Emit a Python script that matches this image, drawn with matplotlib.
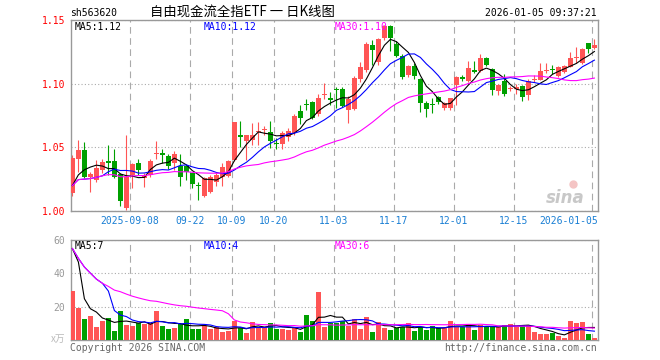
import matplotlib
matplotlib.use("Agg")
import matplotlib.pyplot as plt
import matplotlib.transforms as mtransforms
import numpy as np
import pandas as pd

# daily candles, index 0 = first visible trading day
opens = [1.014, 1.041, 1.048, 1.027, 1.0245, 1.032, 1.039, 1.039, 1.029, 1.002,
         1.028, 1.038, 1.026, 1.028, 1.0445, 1.0455, 1.0434, 1.0376, 1.0355, 1.035,
         1.0297, 1.020, 1.012, 1.0153, 1.023, 1.027, 1.0276, 1.0397, 1.059, 1.0547,
         1.056, 1.062, 1.0635, 1.062, 1.0532, 1.0529, 1.058, 1.061, 1.0784, 1.084,
         1.0855, 1.0763, 1.0912, 1.089, 1.0958, 1.0955, 1.0797, 1.080, 1.1035, 1.111,
         1.130, 1.117, 1.136, 1.1455, 1.131, 1.122, 1.1066, 1.114, 1.1034, 1.085,
         1.084, 1.0897, 1.081, 1.081, 1.0987, 1.1045, 1.102, 1.110, 1.110, 1.1205,
         1.1118, 1.0942, 1.1021, 1.0955, 1.0962, 1.0985, 1.091, 1.103, 1.1032, 1.1097,
         1.1115, 1.106, 1.109, 1.1134, 1.120, 1.116, 1.1318, 1.128]
highs = [1.044, 1.056, 1.054, 1.031, 1.040, 1.041, 1.052, 1.049, 1.030, 1.060,
         1.038, 1.041, 1.030, 1.041, 1.0547, 1.0487, 1.045, 1.047, 1.0447, 1.036,
         1.030, 1.023, 1.027, 1.028, 1.030, 1.038, 1.040, 1.070, 1.0705, 1.060,
         1.069, 1.0697, 1.067, 1.0705, 1.0574, 1.063, 1.065, 1.0765, 1.083, 1.0876,
         1.086, 1.0916, 1.1008, 1.0935, 1.097, 1.097, 1.090, 1.106, 1.117, 1.133,
         1.1345, 1.136, 1.146, 1.146, 1.1335, 1.1235, 1.115, 1.116, 1.1045, 1.0863,
         1.089, 1.090, 1.0855, 1.089, 1.106, 1.1065, 1.118, 1.118, 1.123, 1.121,
         1.112, 1.0995, 1.1073, 1.098, 1.100, 1.099, 1.104, 1.107, 1.1165, 1.1166,
         1.1145, 1.114, 1.115, 1.1245, 1.129, 1.128, 1.132, 1.135]
lows = [1.012, 1.031, 1.026, 1.015, 1.023, 1.030, 1.028, 1.026, 1.004, 1.001,
        1.018, 1.028, 1.019, 1.027, 1.041, 1.038, 1.033, 1.032, 1.0197, 1.024,
        1.018, 1.009, 1.011, 1.014, 1.020, 1.0197, 1.027, 1.039, 1.050, 1.040,
        1.052, 1.052, 1.060, 1.0495, 1.0487, 1.0487, 1.055, 1.060, 1.0687, 1.079,
        1.072, 1.0745, 1.088, 1.083, 1.081, 1.082, 1.069, 1.079, 1.101, 1.109,
        1.115, 1.115, 1.134, 1.126, 1.121, 1.1034, 1.105, 1.1034, 1.078, 1.074,
        1.077, 1.084, 1.079, 1.079, 1.083, 1.102, 1.101, 1.108, 1.109, 1.1137,
        1.0908, 1.0908, 1.0905, 1.094, 1.092, 1.0865, 1.087, 1.101, 1.1025, 1.1087,
        1.1075, 1.105, 1.1085, 1.113, 1.116, 1.1152, 1.1244, 1.127]
closes = [1.042, 1.048, 1.027, 1.029, 1.034, 1.0385, 1.038, 1.027, 1.008, 1.027,
          1.037, 1.032, 1.028, 1.039, 1.045, 1.044, 1.035, 1.0445, 1.0266, 1.031,
          1.0213, 1.0195, 1.026, 1.0266, 1.028, 1.0345, 1.039, 1.0697, 1.0585, 1.0594,
          1.060, 1.063, 1.0645, 1.055, 1.0526, 1.0613, 1.0626, 1.0744, 1.0732, 1.0835,
          1.0732, 1.0884, 1.0918, 1.087, 1.0952, 1.0823, 1.0876, 1.1047, 1.1128, 1.131,
          1.1265, 1.135, 1.1455, 1.136, 1.122, 1.105, 1.114, 1.106, 1.085, 1.080,
          1.0835, 1.0855, 1.085, 1.0884, 1.1052, 1.104, 1.112, 1.1095, 1.1205, 1.115,
          1.095, 1.0987, 1.0916, 1.0962, 1.0968, 1.0895, 1.102, 1.1036, 1.110, 1.1102,
          1.1108, 1.1134, 1.114, 1.1205, 1.1208, 1.1276, 1.127, 1.1305]
volumes = [29.4, 19.4, 12.6, 14.4, 8.0, 11.6, 13.2, 5.6, 17.4, 9.0,
           8.6, 10.0, 9.6, 10.0, 17.4, 8.4, 6.6, 7.4, 9.4, 12.6,
           6.6, 6.6, 8.6, 6.6, 7.6, 5.0, 5.4, 11.4, 7.4, 4.4,
           11.0, 8.0, 8.0, 10.2, 6.6, 6.6, 6.2, 7.4, 5.0, 15.0,
           11.6, 29.0, 8.0, 10.0, 10.0, 11.6, 8.6, 12.4, 6.6, 13.6,
           4.8, 10.6, 7.4, 6.0, 7.4, 8.0, 10.0, 5.4, 8.0, 6.0,
           8.2, 7.4, 7.0, 11.4, 8.0, 8.0, 9.4, 6.0, 9.0, 8.0,
           8.0, 8.0, 9.0, 9.6, 8.0, 9.0, 9.0, 5.0, 3.6, 3.6,
           4.4, 2.4, 1.4, 11.4, 10.4, 10.8, 3.6, 1.4]

# the fund listed four sessions before the first visible candle
pre_close = [1.006, 1.007, 1.0185, 1.0265]
pre_volume = [60.0, 122.6, 44.4, 18.0]

date_idx = [10, 20, 27, 34, 44, 54, 64, 74, 87]
date_labels = ["2025-09-08", "09-22", "10-09", "10-20", "11-03",
               "11-17", "12-01", "12-15", "2026-01-05"]
price_ticks = [1.00, 1.05, 1.10, 1.15]
vol_ticks = [20, 40, 60]

RED = "#ff5555"
GREEN = "#00a000"
MA_COLORS = {5: "black", 10: "#0000ff", 30: "#ff00ff"}
MONO = "DejaVu Sans Mono"
CJK = ["Noto Sans CJK SC", "DejaVu Sans"]
GRID = "#aaaaaa"


def moving_averages(pre, values):
    s = pd.Series(list(pre) + list(values))
    n = len(pre)
    return {w: s.rolling(w, min_periods=1).mean().to_numpy()[n:] for w in (5, 10, 30)}


def style_axes(a):
    for sp in a.spines.values():
        sp.set_color("#999999")
        sp.set_linewidth(1.0)
    a.set_xticks([i - 0.4 for i in date_idx])
    a.grid(axis="x", color=GRID, linestyle=(0, (6, 4)), linewidth=0.8)
    a.grid(axis="y", color=GRID, linestyle=(0, (1, 2)), linewidth=0.8)
    a.tick_params(axis="x", length=0, labelbottom=False)
    a.tick_params(axis="y", length=0, pad=4)
    a.set_axisbelow(True)


def main():
    o = np.array(opens)
    h = np.array(highs)
    l = np.array(lows)
    c = np.array(closes)
    v = np.array(volumes)
    x = np.arange(len(c))
    up = c >= o
    cols = np.where(up, RED, GREEN)

    W, H = 660, 360
    left, right = 70.5, 598
    x0 = -(72.4 - left) / 6
    xlim = (x0, x0 + (right - left) / 6)

    fig = plt.figure(figsize=(W / 100, H / 100), dpi=100)
    ax = fig.add_axes([left / W, 1 - 211 / H, (right - left) / W, 191 / H])
    axv = fig.add_axes([left / W, 1 - 340 / H, (right - left) / W, 100 / H])

    # price panel
    style_axes(ax)
    ax.set_xlim(*xlim)
    ax.set_ylim(1.00, 1.15)
    ax.set_yticks(price_ticks)
    ax.set_yticklabels([f"{t:.2f}" for t in price_ticks], color="red",
                       fontsize=7, family=MONO)

    ax.vlines(x, l, h, colors=cols, linewidth=0.8, zorder=2)
    body = np.maximum(np.abs(c - o), 0.0009)
    ax.bar(x, body, bottom=np.minimum(o, c), width=0.8, color=cols,
           linewidth=0, zorder=3)

    ma_p = moving_averages(pre_close, closes)
    for w in (5, 10, 30):
        ax.plot(x, ma_p[w], color=MA_COLORS[w], linewidth=0.8, zorder=4)

    blend = mtransforms.blended_transform_factory(ax.transData, ax.transAxes)
    for i, lab in zip(date_idx, date_labels):
        if i == date_idx[-1]:
            ax.text(xlim[1], -0.052, lab, transform=blend, ha="right",
                    va="center", fontsize=7, family=MONO, color="#1a7fd4")
        else:
            ax.text(i - 0.4, -0.052, lab, transform=blend, ha="center",
                    va="center", fontsize=7, family=MONO, color="#1a7fd4")

    ax.text(0.0085, 0.962, "MA5:1.12", transform=ax.transAxes, fontsize=7,
            family=MONO, color="black", va="center")
    ax.text(0.253, 0.962, "MA10:1.12", transform=ax.transAxes, fontsize=7,
            family=MONO, color="#0000ff", va="center")
    ax.text(0.501, 0.962, "MA30:1.10", transform=ax.transAxes, fontsize=7,
            family=MONO, color="#ff00ff", va="center")

    # faint logo watermark
    ax.plot([0.953], [0.14], "o", transform=ax.transAxes, markersize=5,
            color="#f4c4c4", zorder=1)
    ax.text(0.975, 0.07, "sina", transform=ax.transAxes, fontsize=12,
            fontweight="bold", style="italic", color="#c8c8c8", ha="right",
            va="center", zorder=1)

    # volume panel
    style_axes(axv)
    axv.set_xlim(*xlim)
    axv.set_ylim(0, 60)
    axv.set_yticks(vol_ticks)
    axv.set_yticklabels([str(t) for t in vol_ticks], color="#999999",
                        fontsize=7, family=MONO)
    axv.bar(x, v, width=0.8, color=cols, linewidth=0, zorder=3)
    ma_v = moving_averages(pre_volume, volumes)
    for w in (5, 10, 30):
        axv.plot(x, ma_v[w], color=MA_COLORS[w], linewidth=0.8, zorder=4)

    axv.text(0.0085, 0.94, "MA5:7", transform=axv.transAxes, fontsize=7,
             family=MONO, color="black", va="center")
    axv.text(0.253, 0.94, "MA10:4", transform=axv.transAxes, fontsize=7,
             family=MONO, color="#0000ff", va="center")
    axv.text(0.501, 0.94, "MA30:6", transform=axv.transAxes, fontsize=7,
             family=MONO, color="#ff00ff", va="center")

    # header / footer
    fig.text(70 / W, 1 - 13 / H, "sh563620", fontsize=7, family=MONO,
             color="black", va="center")
    fig.text(150 / W, 1 - 13 / H, "自由现金流全指ETF 一 日K线图", fontsize=9.6,
             family=CJK, color="black", va="center")
    fig.text(597 / W, 1 - 13 / H, "2026-01-05 09:37:21", fontsize=7,
             family=MONO, color="black", va="center", ha="right")
    fig.text(65 / W, 1 - 339 / H, "x万", fontsize=7, family=CJK,
             color="#bbbbbb", va="center", ha="right")
    fig.text(70 / W, 1 - 348 / H, "Copyright 2026 SINA.COM", fontsize=7,
             family=MONO, color="#666666", va="center")
    fig.text(597 / W, 1 - 348 / H, "http://finance.sina.com.cn", fontsize=7,
             family=MONO, color="#666666", va="center", ha="right")

    fig.savefig("out.png", dpi=100)
    plt.close(fig)


if __name__ == "__main__":
    main()
